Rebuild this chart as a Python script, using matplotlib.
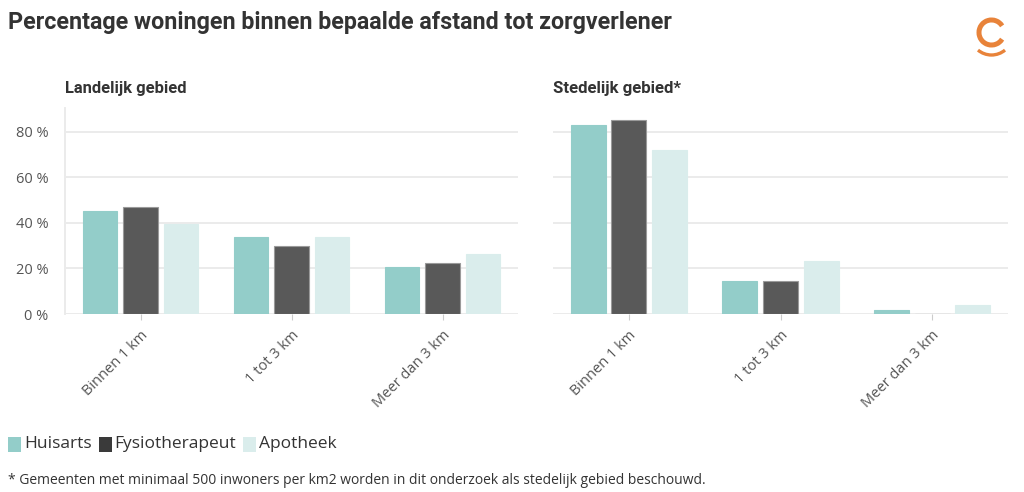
import matplotlib.pyplot as plt
import numpy as np
from matplotlib.patches import Arc, Rectangle

# ── Data ─────────────────────────────────────────────────────────────────────
categories = ["Binnen 1 km", "1 tot 3 km", "Meer dan 3 km"]
series = ["Huisarts", "Fysiotherapeut", "Apotheek"]

landelijk_huisarts = [45.3, 33.7, 20.7]
landelijk_fysio = [47.0, 30.0, 22.3]
landelijk_apotheek = [39.4, 33.7, 26.2]

stedelijk_huisarts = [83.1, 14.7, 1.8]
stedelijk_fysio = [85.1, 14.7, 0.0]
stedelijk_apotheek = [72.2, 23.3, 4.1]

yticks = [0, 20, 40, 60, 80]

# ── Stijl ────────────────────────────────────────────────────────────────────
COLORS = ["#93CDC9", "#595959", "#DAEDEC"]
EDGES = ["#93CDC9", "#9A9A9A", "#DAEDEC"]
GRID = "#EBEBEB"
TEXT = "#333333"
TICK = "#555555"
ORANGE = "#E8833A"
HEAD_FONT = ["Roboto", "DejaVu Sans"]
BODY_FONT = ["Open Sans", "DejaVu Sans"]

W, H = 1024, 492
fig = plt.figure(figsize=(W / 100, H / 100), dpi=100)


def box(x0, y0, x1, y1):
    # pixel coordinates (top-left origin) -> figure fraction
    return [x0 / W, 1 - y1 / H, (x1 - x0) / W, (y1 - y0) / H]


def fit_width(t, target_px):
    # shrink/grow font so the text spans about target_px pixels
    fig.canvas.draw()
    w = t.get_window_extent().width
    t.set_fontsize(t.get_fontsize() * target_px / w)


def draw_panel(ax, values, show_y):
    x = np.arange(len(categories))
    offset, width = 0.268, 0.23
    for i, vals in enumerate(values):
        ax.bar(x + (i - 1) * offset, vals, width, color=COLORS[i],
               edgecolor=EDGES[i], linewidth=0.8, zorder=3)
    ax.set_xlim(-0.5, 2.5)
    ax.set_ylim(0, 90.5)
    ax.set_yticks(yticks)
    ax.grid(axis="y", color=GRID, linewidth=1.4, zorder=0)
    ax.set_xticks(x)
    ax.set_xticklabels(categories, rotation=45, ha="right",
                       rotation_mode="anchor", fontsize=10.5, color=TICK,
                       family=BODY_FONT)
    ax.tick_params(axis="x", length=4, color="#CCCCCC", pad=6)
    ax.tick_params(axis="y", length=0, pad=12)
    for s in ["top", "right", "bottom"]:
        ax.spines[s].set_visible(False)
    if show_y:
        ax.set_yticklabels([f"{v} %" for v in yticks], fontsize=10.5,
                           color=TICK, family=BODY_FONT)
        ax.spines["left"].set_color(GRID)
        ax.spines["left"].set_linewidth(1.4)
    else:
        ax.set_yticklabels([])
        ax.spines["left"].set_visible(False)


ax1 = fig.add_axes(box(65, 108, 518, 314))
ax2 = fig.add_axes(box(553, 108, 1008, 314))
draw_panel(ax1, [landelijk_huisarts, landelijk_fysio, landelijk_apotheek], True)
draw_panel(ax2, [stedelijk_huisarts, stedelijk_fysio, stedelijk_apotheek], False)

title = fig.text(8 / W, 1 - 22 / H,
                 "Percentage woningen binnen bepaalde afstand tot zorgverlener",
                 fontsize=16, fontweight="bold", color=TEXT, family=HEAD_FONT,
                 va="center", ha="left")
fit_width(title, 664)

sub1 = fig.text(65 / W, 1 - 88 / H, "Landelijk gebied", fontsize=12,
                fontweight="bold", color=TEXT, family=HEAD_FONT,
                va="center", ha="left")
fit_width(sub1, 121)
sub2 = fig.text(553 / W, 1 - 88 / H, "Stedelijk gebied*", fontsize=12,
                fontweight="bold", color=TEXT, family=HEAD_FONT,
                va="center", ha="left")
fit_width(sub2, 128)

# Legenda
lx = 8
for i, name in enumerate(series):
    fig.patches.append(Rectangle((lx / W, 1 - 452 / H), 13 / W, 15 / H,
                                 transform=fig.transFigure,
                                 facecolor=COLORS[i] if i != 1 else "#3A3A3A",
                                 edgecolor="none"))
    t = fig.text((lx + 16) / W, 1 - 444 / H, name, fontsize=12.5, color=TEXT,
                 family=BODY_FONT, va="center", ha="left")
    fig.canvas.draw()
    bb = t.get_window_extent()
    lx = bb.x1 + 7

note = fig.text(8 / W, 1 - 480 / H,
                "* Gemeenten met minimaal 500 inwoners per km2 worden in dit onderzoek als stedelijk gebied beschouwd.",
                fontsize=9.5, color=TEXT, family=BODY_FONT, va="center", ha="left")
fit_width(note, 708)

# Logo (assen in pixels, y omgekeerd)
lax = fig.add_axes(box(965, 8, 1020, 68))
lax.set_xlim(965, 1020)
lax.set_ylim(68, 8)
lax.axis("off")
lax.add_patch(Arc((991.5, 32.5), 25, 25, theta1=32, theta2=328,
                  color=ORANGE, linewidth=3.6))
lax.add_patch(Arc((991.5, 34), 42, 42, theta1=50, theta2=130,
                  color=ORANGE, linewidth=2.4))

fig.savefig("out.png", dpi=100)
